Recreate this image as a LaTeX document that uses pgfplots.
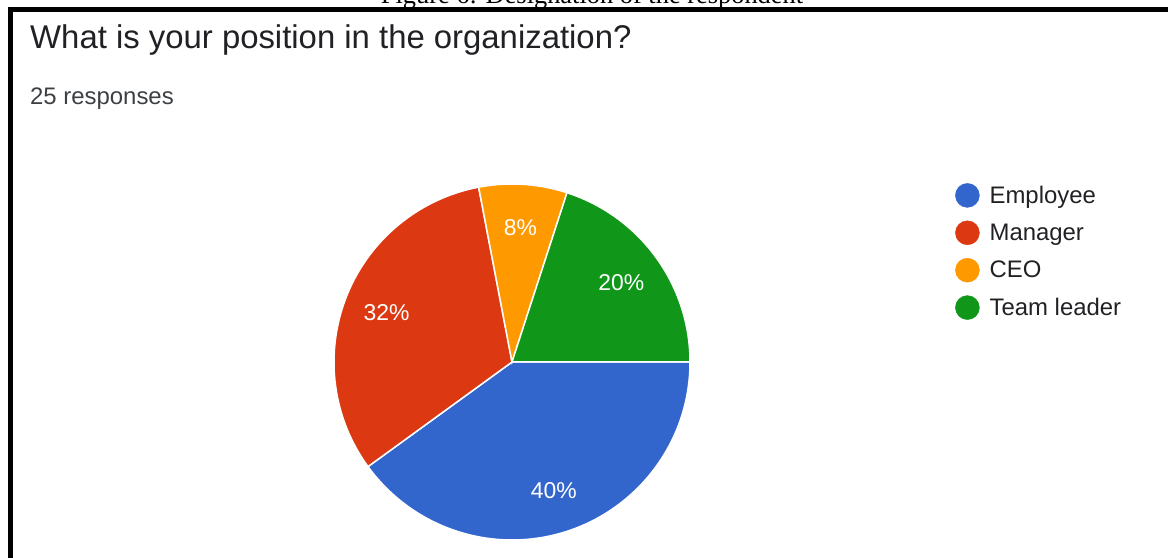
\documentclass[border=0pt]{standalone}
\usepackage{pgfplots}
\pgfplotsset{compat=1.18}
\usepackage{pgfplotstable}
\usepackage{fontspec}
\setmainfont{Liberation Sans}
\newfontfamily\capfont{Liberation Serif}

\definecolor{cEmp}{HTML}{3366CC}
\definecolor{cMan}{HTML}{DC3912}
\definecolor{cCEO}{HTML}{FF9900}
\definecolor{cTeam}{HTML}{109618}
\definecolor{titlegray}{HTML}{202124}
\definecolor{subgray}{HTML}{3C4043}

% share of the 25 responses, in percent
\pgfplotstableread{
label share color
Employee 40 cEmp
Manager 32 cMan
CEO 8 cCEO
{Team leader} 20 cTeam
}\pietable

\newcommand\pielabfont{\fontsize{23}{23}\selectfont}

\begin{document}
\begin{tikzpicture}
\useasboundingbox (0,0) rectangle (1168bp,558bp);
\begin{axis}[
    at={(0,0)}, anchor=south west,
    width=1168bp, height=558bp, scale only axis,
    xmin=0, xmax=1168, ymin=0, ymax=558,
    hide axis, clip=false,
    legend image code/.code={\fill[#1] (0bp,0bp) circle (12bp);},
    legend style={at={(axis cs:955,375)}, anchor=north west,
        draw=none, fill=none, inner sep=0pt,
        font=\fontsize{24}{24}\selectfont, text=titlegray,
        row sep=13bp, legend cell align=left,
        /tikz/every odd column/.append style={column sep=8bp}},
]
\def\angstart{0}
\pgfplotsforeachungrouped \i in {0,...,3}{%
  \pgfplotstablegetelem{\i}{share}\of\pietable \let\sh=\pgfplotsretval
  \pgfplotstablegetelem{\i}{color}\of\pietable \let\col=\pgfplotsretval
  \pgfplotstablegetelem{\i}{label}\of\pietable \let\lab=\pgfplotsretval
  \pgfmathsetmacro\angend{\angstart-3.6*\sh}
  \pgfmathsetmacro\angmid{(\angstart+\angend)/2}
  \edef\doslice{%
    \noexpand\fill[\col, draw=white, line width=1.5bp] (axis cs:512,196)
      -- ++(\angstart:178bp) arc[start angle=\angstart, end angle=\angend, radius=178bp] -- cycle;
    \noexpand\node[text=white, font=\noexpand\pielabfont]
      at ([shift={(\angmid:135bp)}]axis cs:512,196) {\sh\noexpand\%};
    \noexpand\addlegendimage{\col}
    \noexpand\addlegendentry{\lab}}%
  \doslice
  \let\angstart=\angend
}

% frame of the screenshot and the caption cut off above it
\draw[line width=5bp] (axis cs:10.8,0) -- (axis cs:10.8,548.5) -- (axis cs:1168,548.5);
\node[overlay, anchor=base, inner sep=0pt, font=\capfont\fontsize{26.5}{30}\selectfont]
  at (axis cs:592,554.5) {Figure 6: Designation of the respondent};

\node[anchor=base west, inner sep=0pt, font=\fontsize{33}{38}\selectfont, text=titlegray]
  at (axis cs:30,509.5) {What is your position in the organization?};
\node[anchor=base west, inner sep=0pt, font=\fontsize{24}{28}\selectfont, text=subgray]
  at (axis cs:30,453) {25 responses};
\end{axis}
\end{tikzpicture}
\end{document}
